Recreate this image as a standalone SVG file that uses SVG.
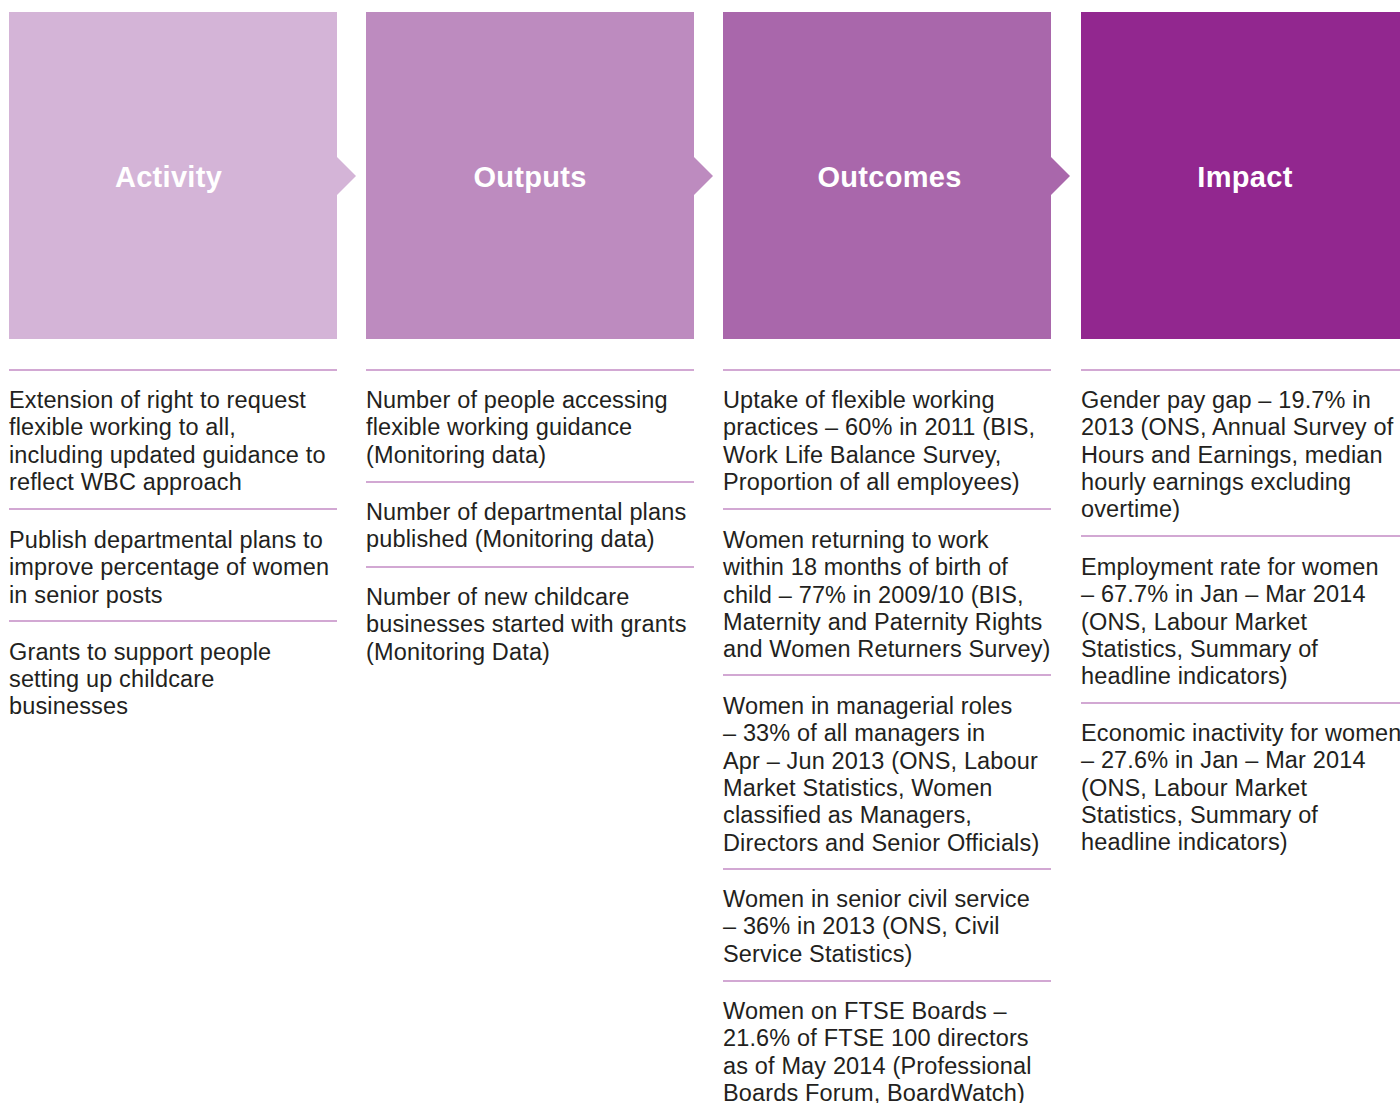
<svg xmlns="http://www.w3.org/2000/svg" width="1400" height="1103" viewBox="0 0 1400 1103">
<style>
.hd{font-family:"Liberation Sans",Arial,sans-serif;font-weight:bold;font-size:29px;letter-spacing:0.3px;fill:#ffffff;text-anchor:middle}
.tx{font-family:"Liberation Sans",Arial,sans-serif;font-size:23.5px;letter-spacing:0.15px;fill:#231f20}
.sep{stroke:#d2a8d3;stroke-width:2;fill:none}
</style>
<rect width="1400" height="1103" fill="#ffffff"/>
<g id="activity">
<rect x="9" y="12" width="328" height="327" fill="#d4b4d7"/>
<polygon points="337,157 356,176 337,195" fill="#d4b4d7"/>
<text class="hd" x="168.5" y="187">Activity</text>
</g>
<g id="outputs">
<rect x="366" y="12" width="328" height="327" fill="#bd8bbf"/>
<polygon points="694,157 713,176 694,195" fill="#bd8bbf"/>
<text class="hd" x="530" y="187">Outputs</text>
</g>
<g id="outcomes">
<rect x="723" y="12" width="328" height="327" fill="#a967ab"/>
<polygon points="1051,157 1070,176 1051,195" fill="#a967ab"/>
<text class="hd" x="889.5" y="187">Outcomes</text>
</g>
<g id="impact">
<rect x="1081" y="12" width="330" height="327" fill="#92278f"/>
<text class="hd" x="1245" y="187">Impact</text>
</g>
<g id="separators">
<path class="sep" d="M9 370H337M9 509H337M9 621H337"/>
<path class="sep" d="M366 370H694M366 482H694M366 567H694"/>
<path class="sep" d="M723 370H1051M723 509H1051M723 675H1051M723 869H1051M723 981H1051"/>
<path class="sep" d="M1081 370H1400M1081 536H1400M1081 703H1400"/>
</g>
<g id="activity-items" class="tx">
<text x="9" y="408">Extension of right to request</text>
<text x="9" y="435.3">flexible working to all,</text>
<text x="9" y="462.6">including updated guidance to</text>
<text x="9" y="490">reflect WBC approach</text>
<text x="9" y="548">Publish departmental plans to</text>
<text x="9" y="575.3">improve percentage of women</text>
<text x="9" y="602.6">in senior posts</text>
<text x="9" y="659.5">Grants to support people</text>
<text x="9" y="686.8">setting up childcare</text>
<text x="9" y="714">businesses</text>
</g>
<g id="outputs-items" class="tx">
<text x="366" y="408">Number of people accessing</text>
<text x="366" y="435.3">flexible working guidance</text>
<text x="366" y="462.6">(Monitoring data)</text>
<text x="366" y="520">Number of departmental plans</text>
<text x="366" y="547.3">published (Monitoring data)</text>
<text x="366" y="605">Number of new childcare</text>
<text x="366" y="632.3">businesses started with grants</text>
<text x="366" y="659.6">(Monitoring Data)</text>
</g>
<g id="outcomes-items" class="tx">
<text x="723" y="408">Uptake of flexible working</text>
<text x="723" y="435.3">practices – 60% in 2011 (BIS,</text>
<text x="723" y="462.6">Work Life Balance Survey,</text>
<text x="723" y="490">Proportion of all employees)</text>
<text x="723" y="548">Women returning to work</text>
<text x="723" y="575.3">within 18 months of birth of</text>
<text x="723" y="602.6">child – 77% in 2009/10 (BIS,</text>
<text x="723" y="629.9">Maternity and Paternity Rights</text>
<text x="723" y="657.2">and Women Returners Survey)</text>
<text x="723" y="714">Women in managerial roles</text>
<text x="723" y="741.3">– 33% of all managers in</text>
<text x="723" y="768.6">Apr – Jun 2013 (ONS, Labour</text>
<text x="723" y="795.9">Market Statistics, Women</text>
<text x="723" y="823.2">classified as Managers,</text>
<text x="723" y="850.5">Directors and Senior Officials)</text>
<text x="723" y="907">Women in senior civil service</text>
<text x="723" y="934.3">– 36% in 2013 (ONS, Civil</text>
<text x="723" y="961.6">Service Statistics)</text>
<text x="723" y="1019">Women on FTSE Boards –</text>
<text x="723" y="1046.3">21.6% of FTSE 100 directors</text>
<text x="723" y="1073.6">as of May 2014 (Professional</text>
<text x="723" y="1100.9">Boards Forum, BoardWatch)</text>
</g>
<g id="impact-items" class="tx">
<text x="1081" y="408">Gender pay gap – 19.7% in</text>
<text x="1081" y="435.3">2013 (ONS, Annual Survey of</text>
<text x="1081" y="462.6">Hours and Earnings, median</text>
<text x="1081" y="490">hourly earnings excluding</text>
<text x="1081" y="517.2">overtime)</text>
<text x="1081" y="575">Employment rate for women</text>
<text x="1081" y="602.3">– 67.7% in Jan – Mar 2014</text>
<text x="1081" y="629.6">(ONS, Labour Market</text>
<text x="1081" y="656.9">Statistics, Summary of</text>
<text x="1081" y="684.2">headline indicators)</text>
<text x="1081" y="741">Economic inactivity for women</text>
<text x="1081" y="768.3">– 27.6% in Jan – Mar 2014</text>
<text x="1081" y="795.6">(ONS, Labour Market</text>
<text x="1081" y="822.9">Statistics, Summary of</text>
<text x="1081" y="850.2">headline indicators)</text>
</g>
</svg>
